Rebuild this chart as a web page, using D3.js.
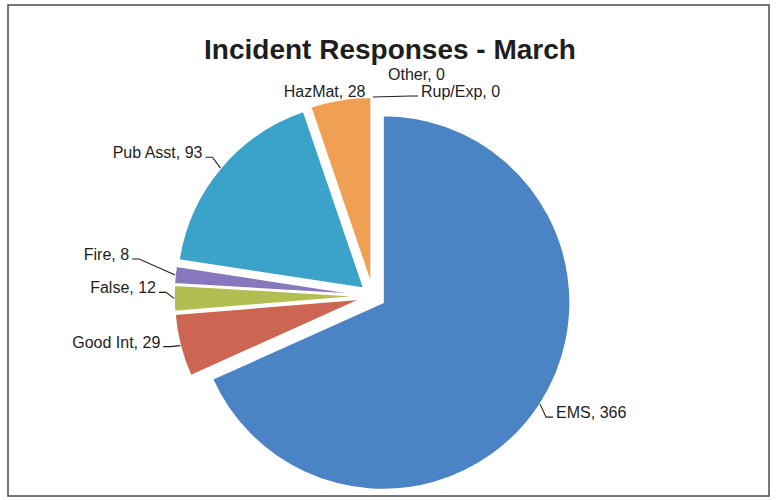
<!DOCTYPE html>
<html>
<head>
<meta charset="utf-8">
<script src="https://cdn.jsdelivr.net/npm/d3@7"></script>
<style>
  html, body { margin: 0; padding: 0; background: #fff; }
  svg { display: block; }
  text { font-family: "Liberation Sans", Arial, sans-serif; fill: #1e1e1e; }
</style>
</head>
<body>
<svg id="chart"></svg>
<script>
// data
const categories = ["EMS", "Good Int", "False", "Fire", "Pub Asst", "HazMat", "Rup/Exp", "Other"];
const counts     = [366, 29, 12, 8, 93, 28, 0, 0];
const chartTitle = "Incident Responses - March";

// styles (Excel 2010 palette, a bit washed out by the scan)
const sliceColors = ["#4a84c4", "#cc6652", "#b2bd52", "#8778bd", "#3ba3c9", "#f0a052", "#4a84c4", "#cc6652"];

// label placement relative to the slice's outer point
const labelLayout = [
  { dx:  16, dy:  14, anchor: "start", leader: true  }, // EMS
  { dx: -20, dy:   2, anchor: "end",   leader: true  }, // Good Int
  { dx: -18, dy:  -5, anchor: "end",   leader: true  }, // False
  { dx: -46, dy: -15, anchor: "end",   leader: true  }, // Fire
  { dx: -18, dy: -10, anchor: "end",   leader: true  }, // Pub Asst
  { dx:  25, dy:  -3, anchor: "end",   leader: false }, // HazMat
  { dx:  48, dy:   0, anchor: "start", leader: true  }, // Rup/Exp
  { dx:  15, dy: -17, anchor: "start", leader: false }  // Other
];

const W = 776, H = 500;
const cx = 373, cy = 296;
const radius = 187;
const explode = 12;

const svg = d3.select("#chart").attr("width", W).attr("height", H);

// outer frame
svg.append("rect")
  .attr("x", 8).attr("y", 5)
  .attr("width", 761).attr("height", 491)
  .attr("fill", "none")
  .attr("stroke", "#4a4a4a")
  .attr("stroke-width", 1.5);

// title
svg.append("text")
  .attr("x", 390).attr("y", 59)
  .attr("text-anchor", "middle")
  .style("font-size", "28px")
  .style("font-weight", "bold")
  .text(chartTitle);

const rows = categories.map((c, i) => ({ name: c, count: counts[i], idx: i }));

const pie = d3.pie().sort(null).value(d => d.count);
const arcs = pie(rows);

const arc = d3.arc().innerRadius(0).outerRadius(radius);

const midDir = d => {
  const a = (d.startAngle + d.endAngle) / 2;
  return [Math.sin(a), -Math.cos(a)];
};

const g = svg.append("g").attr("transform", `translate(${cx},${cy})`);

g.selectAll("path.slice")
  .data(arcs.filter(d => d.value > 0))
  .join("path")
  .attr("class", "slice")
  .attr("d", arc)
  .attr("transform", d => {
    const [ux, uy] = midDir(d);
    return `translate(${ux * explode},${uy * explode})`;
  })
  .attr("fill", d => sliceColors[d.data.idx])
  .attr("stroke", "#fff")
  .attr("stroke-width", 1.5);

// labels + leader lines
arcs.forEach(d => {
  const [ux, uy] = midDir(d);
  const px = cx + ux * (explode + radius);
  const py = cy + uy * (explode + radius);
  const lay = labelLayout[d.data.idx];
  const tx = px + lay.dx;
  const ty = py + lay.dy;

  if (lay.leader) {
    const side = lay.anchor === "end" ? 1 : -1;
    const pts = [
      [px, py],
      [tx + side * 10, ty - 1],
      [tx + side * 3, ty - 1]
    ];
    svg.append("path")
      .attr("d", d3.line()(pts))
      .attr("fill", "none")
      .attr("stroke", "#1e1e1e")
      .attr("stroke-width", 1.1);
  }

  svg.append("text")
    .attr("x", tx).attr("y", ty)
    .attr("text-anchor", lay.anchor)
    .style("font-size", "16px")
    .text(`${d.data.name}, ${d.data.count}`);
});
</script>
</body>
</html>
